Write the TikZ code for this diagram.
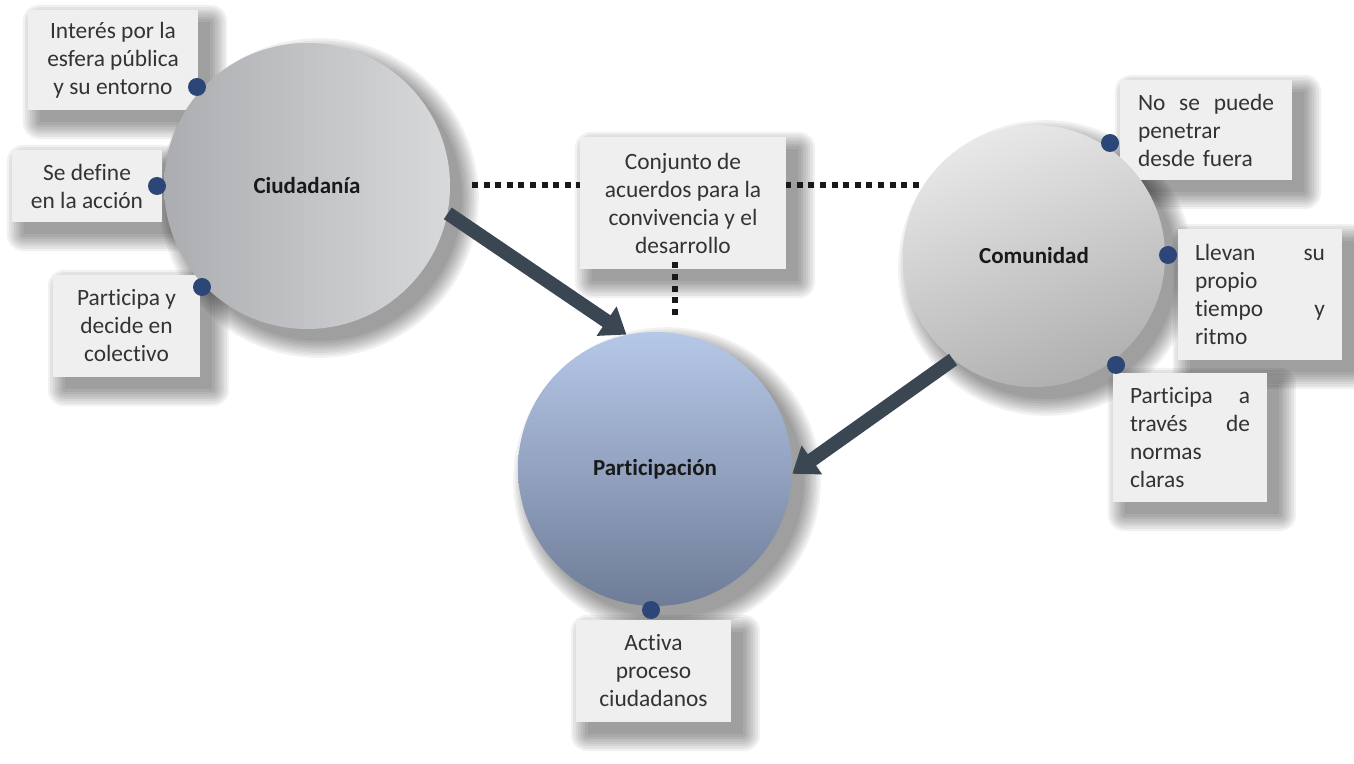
\documentclass[tikz,border=0pt]{standalone}
\usepackage{fontspec}
\setmainfont{Carlito}[Ligatures={NoCommon}]
\usetikzlibrary{arrows.meta}
\definecolor{boxfill}{HTML}{EFEFEF}
\definecolor{txt}{HTML}{333333}
\definecolor{dotc}{HTML}{2D4678}
\definecolor{arr}{HTML}{3B4653}
\definecolor{ciudL}{HTML}{ABADB0}
\definecolor{ciudR}{HTML}{D8D9DB}
\definecolor{comT}{HTML}{E8E8E8}
\definecolor{comB}{HTML}{B0B0B0}
\definecolor{partT}{HTML}{B6C8E8}
\definecolor{partB}{HTML}{6E7C97}
\pgfdeclarelayer{shadowlayer}
\pgfsetlayers{shadowlayer,main}
\begin{document}
\begin{tikzpicture}[x=0.5pt,y=-0.5pt,
  every node/.style={font=\fontsize{11.7}{14}\selectfont, text=txt},
  infobox/.style={fill=boxfill, inner sep=0pt, align=center},
  bigcirc/.style={circle, inner sep=0pt, font=\fontsize{11.5}{14}\selectfont\bfseries, text=black!90},
  dotnode/.style={circle, fill=dotc, inner sep=0pt, minimum size=9pt},
  dotline/.style={line width=2.8pt, black!90, dash pattern=on 3pt off 2.8pt},
  bigarrow/.style={line width=7pt, arr, -{Triangle[width=17pt,length=12pt]}},
  shadowpiece/.style={fill=black, opacity=0.055}
]
\useasboundingbox (0,0) rectangle (1354,764);

% dotted connector between the outer circles
\draw[dotline] (472,185) -- (922,185);

% boxes
\node[infobox, minimum width=85pt, minimum height=50pt] (b1) at (113,60)
  {Interés por la\\esfera pública\\y su entorno};
\node[infobox, minimum width=75pt, minimum height=36pt] (b2) at (87,186)
  {Se define\\en la acción};
\node[infobox, minimum width=73.5pt, minimum height=51pt] (b3) at (126.5,326)
  {Participa y\\decide en\\colectivo};
\node[infobox, minimum width=103pt, minimum height=66pt] (conj) at (683,203)
  {Conjunto de\\acuerdos para la\\convivencia y el\\desarrollo};
\node[infobox, minimum width=77.5pt, minimum height=51pt] (b5) at (653.5,671)
  {Activa\\proceso\\ciudadanos};
\node[infobox, minimum width=86pt, minimum height=50pt, text width=68pt, align=left] (b6) at (1206,130)
  {\makebox[68pt][l]{No\hfill se\hfill puede}\\penetrar\\desde fuera};
\node[infobox, minimum width=82pt, minimum height=65.5pt, text width=65pt, align=left] (b7) at (1260,294.5)
  {\makebox[65pt][l]{Llevan\hfill su}\\propio\\\makebox[65pt][l]{tiempo\hfill y}\\ritmo};
\node[infobox, minimum width=77pt, minimum height=64.5pt, text width=60pt, align=left] (b8) at (1190,437.5)
  {\makebox[60pt][l]{Participa\hfill a}\\\makebox[60pt][l]{través\hfill de}\\normas\\claras};

% vertical dotted line
\draw[dotline] ([xshift=-4pt,yshift=3.5pt]conj.south) -- ([xshift=-4pt,yshift=-24.5pt]conj.south);

% circles
\node[bigcirc, minimum size=143pt, left color=ciudL, right color=ciudR] (ciud) at (307,186) {Ciudadanía};
\node[bigcirc, minimum size=131pt, shading=axis, top color=comT, bottom color=comB, shading angle=20] (com) at (1034,256) {Comunidad};
\node[bigcirc, minimum size=137pt, top color=partT, bottom color=partB] (part) at (655,469) {Participación};

% soft shadows
\begin{pgfonlayer}{shadowlayer}
\fill[white] (0,0) rectangle (1354,764);
\foreach \n in {b1,b2,b3,conj,b5,b6,b7,b8}{
  \foreach \k in {0,...,7}{
    \fill[shadowpiece, rounded corners={\k*1.2pt}]
      ([shift={({6pt-\k*1.2pt},{-6pt+\k*1.2pt})}]\n.north west) rectangle
      ([shift={({6pt+\k*1.2pt},{-6pt-\k*1.2pt})}]\n.south east);
  }
}
\foreach \n/\r in {ciud/71.5,com/65.5,part/68.5}{
  \foreach \k in {0,...,7}{
    \fill[shadowpiece] ([shift={(6pt,-6pt)}]\n.center) circle[radius={(\r+\k*1.2)*2}];
  }
}
\end{pgfonlayer}

% arrows
\draw[bigarrow] (ciud.-11) -- (part.102);
\draw[bigarrow] (com.232) -- (part.-2);

% dots
\node[dotnode] (d1) at (197,87) {};
\node[dotnode] (d2) at (157,186) {};
\node[dotnode] (d3) at (202,287) {};
\node[dotnode] (d4) at (651,610) {};
\node[dotnode] (d5) at (1110,143) {};
\node[dotnode] (d6) at (1168,255) {};
\node[dotnode] (d7) at (1116,365) {};
\end{tikzpicture}
\end{document}
